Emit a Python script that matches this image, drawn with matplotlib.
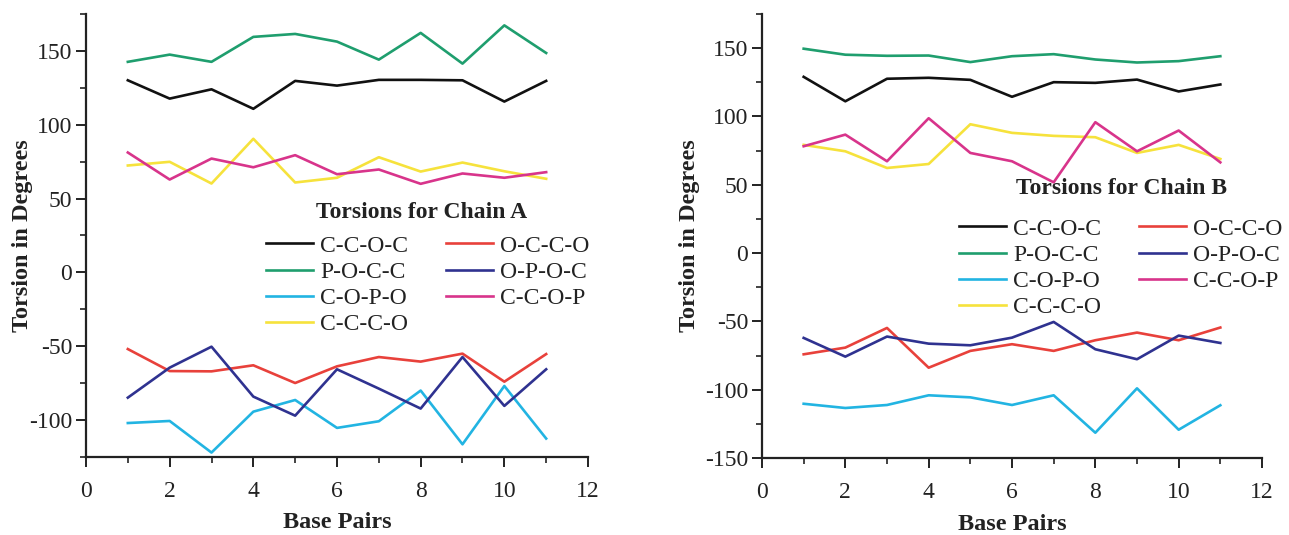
import matplotlib
matplotlib.use("Agg")
import matplotlib.pyplot as plt
from matplotlib.ticker import MultipleLocator

plt.rcParams['font.family'] = ['Liberation Serif', 'DejaVu Serif']
plt.rcParams['axes.unicode_minus'] = False

base_pairs = [1, 2, 3, 4, 5, 6, 7, 8, 9, 10, 11]
labels = ["C-C-O-C", "P-O-C-C", "C-O-P-O", "C-C-C-O", "O-C-C-O", "O-P-O-C", "C-C-O-P"]
colors = ["#111111", "#1f9e6e", "#22b4e2", "#f6e23c", "#e8413b", "#2f3290", "#d8348b"]

# Chain A
a_ccoc = [130.1, 117.7, 124.0, 110.8, 129.7, 126.5, 130.4, 130.4, 130.1, 115.7, 129.7]
a_pocc = [142.6, 147.5, 142.6, 159.5, 161.5, 156.3, 144.1, 162.2, 141.4, 167.3, 148.6]
a_copo = [-102.0, -100.6, -122.0, -94.3, -86.4, -105.3, -100.8, -80.0, -116.4, -76.9, -112.5]
a_ccco = [72.4, 74.9, 60.2, 90.5, 60.9, 64.1, 78.0, 68.3, 74.4, 68.5, 63.4]
a_occo = [-51.9, -66.8, -67.0, -62.9, -74.9, -63.6, -57.3, -60.4, -55.0, -74.0, -55.3]
a_opoc = [-84.8, -64.5, -50.3, -84.1, -97.0, -65.6, -78.7, -92.2, -57.3, -90.4, -65.6]
a_ccop = [81.2, 62.9, 77.1, 71.2, 79.4, 66.5, 69.7, 60.0, 67.0, 64.1, 67.9]

# Chain B
b_ccoc = [129.0, 111.1, 127.6, 128.3, 126.8, 114.4, 125.1, 124.6, 127.0, 118.3, 123.4]
b_pocc = [149.6, 145.2, 144.4, 144.6, 139.8, 144.1, 145.6, 141.7, 139.5, 140.5, 144.1]
b_copo = [-110.3, -113.4, -111.2, -104.1, -105.6, -111.2, -104.1, -131.5, -99.0, -129.3, -111.4]
b_ccco = [79.2, 74.5, 62.3, 65.2, 94.3, 88.0, 85.8, 84.8, 73.3, 79.2, 68.9]
b_occo = [-74.1, -69.2, -54.8, -83.9, -71.6, -66.7, -71.6, -63.8, -58.2, -63.8, -54.5]
b_opoc = [-62.1, -75.8, -61.1, -66.3, -67.5, -61.9, -50.4, -70.4, -77.7, -60.4, -65.8]
b_ccop = [78.2, 86.7, 67.2, 98.7, 73.3, 67.2, 51.8, 95.8, 74.5, 89.7, 66.4]

chain_a = [a_ccoc, a_pocc, a_copo, a_ccco, a_occo, a_opoc, a_ccop]
chain_b = [b_ccoc, b_pocc, b_copo, b_ccco, b_occo, b_opoc, b_ccop]

W, H = 1289, 535
fig = plt.figure(figsize=(W / 100, H / 100), dpi=100)
TXT = '#222222'

def px_axes(x0, x1, ytop, ybot):
    return fig.add_axes([x0 / W, (H - ybot) / H, (x1 - x0) / W, (ybot - ytop) / H])

axA = px_axes(86, 588, 14, 457)
axB = px_axes(762, 1262, 14, 458)

def style(ax, ylim, ylab_x_px):
    ax.set_xlim(0, 12)
    ax.set_ylim(*ylim)
    ax.xaxis.set_major_locator(MultipleLocator(2))
    ax.xaxis.set_minor_locator(MultipleLocator(1))
    ax.yaxis.set_major_locator(MultipleLocator(50))
    ax.yaxis.set_minor_locator(MultipleLocator(25))
    for s in ['top', 'right']:
        ax.spines[s].set_visible(False)
    for s in ['left', 'bottom']:
        ax.spines[s].set_linewidth(1.6)
        ax.spines[s].set_color(TXT)
    ax.tick_params(which='major', direction='out', length=7, width=1.4, labelsize=17, colors=TXT)
    ax.tick_params(axis='x', which='major', pad=10)
    ax.tick_params(axis='y', which='major', pad=3)
    ax.tick_params(which='minor', direction='out', length=4, width=1.2, colors=TXT)
    bb = ax.get_position()
    ax_w = bb.width * W
    ax_h = bb.height * H
    ax.set_xlabel("Base Pairs", fontsize=17.5, fontweight='bold', color=TXT)
    ax.set_ylabel("Torsion in Degrees", fontsize=17.5, fontweight='bold', color=TXT)
    ax.xaxis.label.set_va('center')
    ax.yaxis.label.set_va('center')
    ax.yaxis.label.set_ha('center')
    ax.xaxis.set_label_coords(0.5, -66 / ax_h)
    ax.yaxis.set_label_coords(ylab_x_px / ax_w, 0.5)

for ax, data, ylim, lx in [(axA, chain_a, (-125, 175), 23 - 86), (axB, chain_b, (-150, 175), 689 - 762)]:
    for vals, lab, col in zip(data, labels, colors):
        ax.plot(base_pairs, vals, color=col, lw=1.9, label=lab)
    style(ax, ylim, lx)

def add_legend(ax, title, tx, ty, lx, ly):
    leg = ax.legend(ncol=2, loc='upper left', bbox_to_anchor=(lx / W, 1 - ly / H),
                    bbox_transform=fig.transFigure, frameon=False, fontsize=17,
                    handlelength=2.0, handletextpad=0.3, columnspacing=1.6,
                    labelspacing=0.2, borderaxespad=0, borderpad=0)
    for t in leg.get_texts():
        t.set_color(TXT)
    fig.text(tx / W, 1 - ty / H, title, ha='center', va='center',
             fontsize=17, fontweight='bold', color=TXT)
    return leg

add_legend(axA, "Torsions for Chain A", 422, 212, 266, 235)
add_legend(axB, "Torsions for Chain B", 1122, 188, 959, 218)

fig.savefig("out.png", dpi=100)
